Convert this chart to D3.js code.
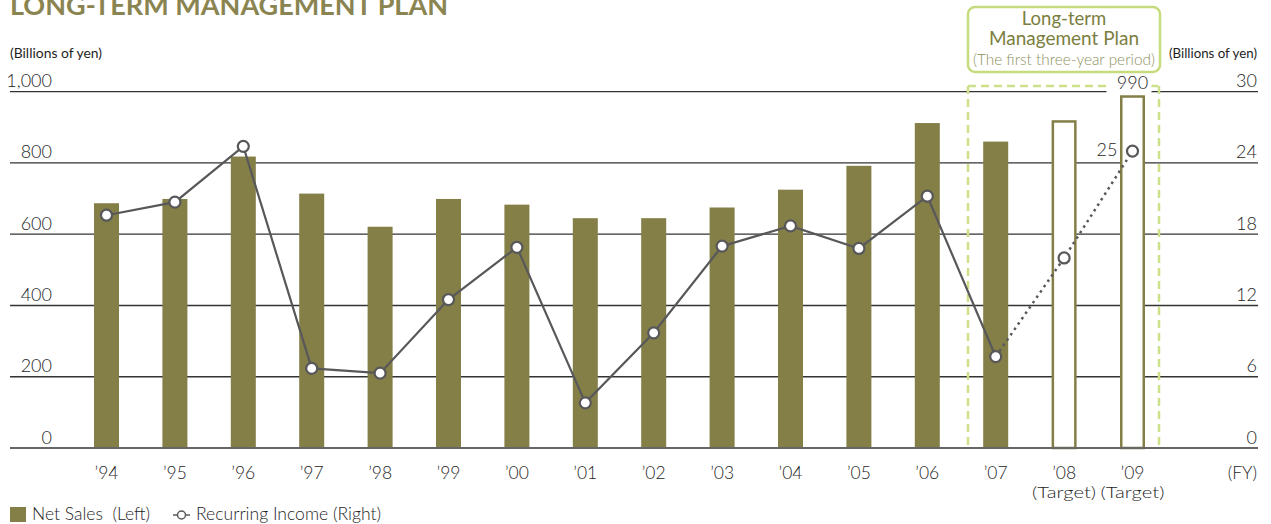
<!DOCTYPE html>
<html>
<head>
<meta charset="utf-8">
<script src="https://cdn.jsdelivr.net/npm/d3@7"></script>
<style>
  html, body { margin: 0; padding: 0; background: #fff; }
  svg { display: block; font-family: Lato, "Open Sans", sans-serif; font-weight: 300; }
</style>
</head>
<body>
<svg id="chart" width="1271" height="524"></svg>
<script>
// Fiscal years and their axis labels
const years = ["1994","1995","1996","1997","1998","1999","2000","2001","2002","2003","2004","2005","2006","2007","2008","2009"];
const yearLabels = ["’94","’95","’96","’97","’98","’99","’00","’01","’02","’03","’04","’05","’06","’07","’08","’09"];
const targetYears = ["2008","2009"];

// Net sales (billions of yen, left axis)
const netSales = [687, 699, 818, 714, 621, 699, 683, 645, 645, 675, 725, 792, 912, 860, 920, 990];
// Recurring income (billions of yen, right axis)
const recurringIncome = [19.6, 20.7, 25.4, 6.7, 6.3, 12.5, 16.9, 3.8, 9.7, 17.0, 18.7, 16.8, 21.2, 7.7, 16.0, 25];

const leftTicks = [0, 200, 400, 600, 800, 1000];
const rightTicks = [0, 6, 12, 18, 24, 30];

const OLIVE = "#847e47";
const LINE = "#58585a";
const PLAN_GREEN = "#cde08a";
const TEXT = "#1e1e1e";

const svg = d3.select("#chart");
const gridLeft = 10, gridRight = 1258;

const x = d3.scalePoint().domain(years).range([106.5, 1132.5]);
const yL = d3.scaleLinear().domain([0, 1000]).range([448, 91.7]);
const yR = d3.scaleLinear().domain([0, 30]).range([448, 91.7]);
const barW = 25;

// Title
svg.append("text")
  .attr("x", 10).attr("y", 15)
  .attr("font-size", 27).attr("font-weight", 700)
  .attr("fill", "#8a8450")
  .attr("textLength", 438).attr("lengthAdjust", "spacingAndGlyphs")
  .text("LONG-TERM MANAGEMENT PLAN");

// Unit captions
svg.append("text")
  .attr("x", 10).attr("y", 58).attr("font-size", 14).attr("font-weight", 400).attr("fill", TEXT)
  .attr("textLength", 92).attr("lengthAdjust", "spacingAndGlyphs")
  .text("(Billions of yen)");
svg.append("text")
  .attr("x", 1257).attr("y", 58).attr("font-size", 14).attr("font-weight", 400).attr("fill", TEXT)
  .attr("text-anchor", "end")
  .attr("textLength", 88).attr("lengthAdjust", "spacingAndGlyphs")
  .text("(Billions of yen)");

// Gridlines (zero line drawn later as baseline)
svg.append("g").selectAll("line")
  .data(leftTicks.filter(d => d > 0))
  .join("line")
  .attr("x1", gridLeft).attr("x2", gridRight)
  .attr("y1", d => yL(d)).attr("y2", d => yL(d))
  .attr("stroke", "#333").attr("stroke-width", 1.3);

// Left tick labels
svg.append("g").selectAll("text")
  .data(leftTicks)
  .join("text")
  .attr("x", 52).attr("y", d => yL(d) - 4.5)
  .attr("text-anchor", "end")
  .attr("font-size", 18).attr("fill", TEXT)
  .text(d => d3.format(",")(d));

// Right tick labels
svg.append("g").selectAll("text")
  .data(rightTicks)
  .join("text")
  .attr("x", 1257).attr("y", d => yR(d) - 4.5)
  .attr("text-anchor", "end")
  .attr("font-size", 18).attr("fill", TEXT)
  .text(d => d);

// Dashed frame around the plan period
const planX0 = 968, planX1 = 1159, planTop = 86;
const planFrame = svg.append("g")
  .attr("fill", "none").attr("stroke", PLAN_GREEN)
  .attr("stroke-width", 2.5).attr("stroke-dasharray", "8,5");
planFrame.append("line").attr("x1", planX0).attr("x2", planX0).attr("y1", planTop).attr("y2", yL(0));
planFrame.append("line").attr("x1", planX1).attr("x2", planX1).attr("y1", planTop).attr("y2", yL(0));
planFrame.append("line").attr("x1", planX0).attr("x2", planX1).attr("y1", planTop).attr("y2", planTop);

// Bars: actual results filled, targets outlined
const rows = years.map((y, i) => ({ year: y, sales: netSales[i], income: recurringIncome[i], target: targetYears.includes(y) }));

svg.append("g").selectAll("rect")
  .data(rows)
  .join("rect")
  .attr("x", d => x(d.year) - barW / 2 + (d.target ? 1.25 : 0))
  .attr("y", d => yL(d.sales) + (d.target ? 1.25 : 0))
  .attr("width", d => barW - (d.target ? 2.5 : 0))
  .attr("height", d => yL(0) - yL(d.sales) - (d.target ? 1.25 : 0))
  .attr("fill", d => d.target ? "#fff" : OLIVE)
  .attr("stroke", d => d.target ? OLIVE : "none")
  .attr("stroke-width", 2.5);

// Baseline
svg.append("line")
  .attr("x1", gridLeft).attr("x2", gridRight)
  .attr("y1", yL(0)).attr("y2", yL(0))
  .attr("stroke", "#666").attr("stroke-width", 2);

// Value label for the final target bar, knocking out the lines behind it
const last = rows[rows.length - 1];
svg.append("rect")
  .attr("x", x(last.year) - 26).attr("y", 74)
  .attr("width", 45).attr("height", 20)
  .attr("fill", "#fff");
svg.append("text")
  .attr("x", x(last.year)).attr("y", 89)
  .attr("text-anchor", "middle")
  .attr("font-size", 18).attr("fill", TEXT)
  .text(last.sales);

// Recurring income line: solid for results, dotted into targets
const line = d3.line().x(d => x(d.year)).y(d => yR(d.income));
const actualRows = rows.filter(d => !d.target);
const planRows = rows.filter(d => d.target || d.year === "2007");

svg.append("path")
  .datum(actualRows)
  .attr("d", line)
  .attr("fill", "none").attr("stroke", LINE).attr("stroke-width", 2.2);
svg.append("path")
  .datum(planRows)
  .attr("d", line)
  .attr("fill", "none").attr("stroke", LINE).attr("stroke-width", 2.5)
  .attr("stroke-dasharray", "2.5,4");

svg.append("g").selectAll("circle")
  .data(rows)
  .join("circle")
  .attr("cx", d => x(d.year)).attr("cy", d => yR(d.income))
  .attr("r", 5.5)
  .attr("fill", "#fff").attr("stroke", LINE).attr("stroke-width", 2.2);

// Value label for the final income target
svg.append("text")
  .attr("x", x(last.year) - 15).attr("y", yR(last.income) + 5)
  .attr("text-anchor", "end")
  .attr("font-size", 18).attr("fill", TEXT)
  .text(last.income);

// Category labels
svg.append("g").selectAll("text")
  .data(rows)
  .join("text")
  .attr("x", d => x(d.year)).attr("y", 479)
  .attr("text-anchor", "middle")
  .attr("font-size", 17.5).attr("fill", TEXT)
  .text((d, i) => yearLabels[i]);
svg.append("g").selectAll("text")
  .data(rows.filter(d => d.target))
  .join("text")
  .attr("x", d => x(d.year)).attr("y", 498)
  .attr("text-anchor", "middle")
  .attr("font-size", 16.5).attr("fill", TEXT)
  .attr("textLength", 64).attr("lengthAdjust", "spacingAndGlyphs")
  .text("(Target)");
svg.append("text")
  .attr("x", 1257).attr("y", 479)
  .attr("text-anchor", "end")
  .attr("font-size", 17.5).attr("fill", TEXT)
  .text("(FY)");

// Plan caption box
svg.append("rect")
  .attr("x", 968).attr("y", 7)
  .attr("width", 192).attr("height", 65)
  .attr("rx", 7)
  .attr("fill", "#fff").attr("stroke", "#c6dc7c").attr("stroke-width", 2.5);
const cap = svg.append("g").attr("text-anchor", "middle").attr("font-weight", 400);
cap.append("text").attr("x", 1064).attr("y", 25)
  .attr("font-size", 18.5).attr("fill", "#7b7e3f").text("Long-term");
cap.append("text").attr("x", 1064).attr("y", 45)
  .attr("font-size", 18.5).attr("fill", "#7b7e3f")
  .attr("textLength", 150).attr("lengthAdjust", "spacingAndGlyphs")
  .text("Management Plan");
cap.append("text").attr("x", 1064).attr("y", 65)
  .attr("font-size", 15).attr("font-weight", 300).attr("fill", "#8e9160")
  .attr("textLength", 182).attr("lengthAdjust", "spacingAndGlyphs")
  .text("(The first three-year period)");

// Legend
const legend = svg.append("g");
legend.append("rect").attr("x", 10).attr("y", 507).attr("width", 16).attr("height", 15).attr("fill", OLIVE);
legend.append("text").attr("x", 32).attr("y", 520).attr("font-size", 17).attr("fill", TEXT)
  .attr("xml:space", "preserve")
  .attr("textLength", 118).attr("lengthAdjust", "spacingAndGlyphs")
  .text("Net Sales  (Left)");
legend.append("line").attr("x1", 173).attr("x2", 190).attr("y1", 515).attr("y2", 515)
  .attr("stroke", LINE).attr("stroke-width", 1.5);
legend.append("circle").attr("cx", 181.5).attr("cy", 515).attr("r", 4)
  .attr("fill", "#fff").attr("stroke", LINE).attr("stroke-width", 1.5);
legend.append("text").attr("x", 196).attr("y", 520).attr("font-size", 17).attr("fill", TEXT)
  .attr("textLength", 185).attr("lengthAdjust", "spacingAndGlyphs")
  .text("Recurring Income (Right)");
</script>
</body>
</html>
